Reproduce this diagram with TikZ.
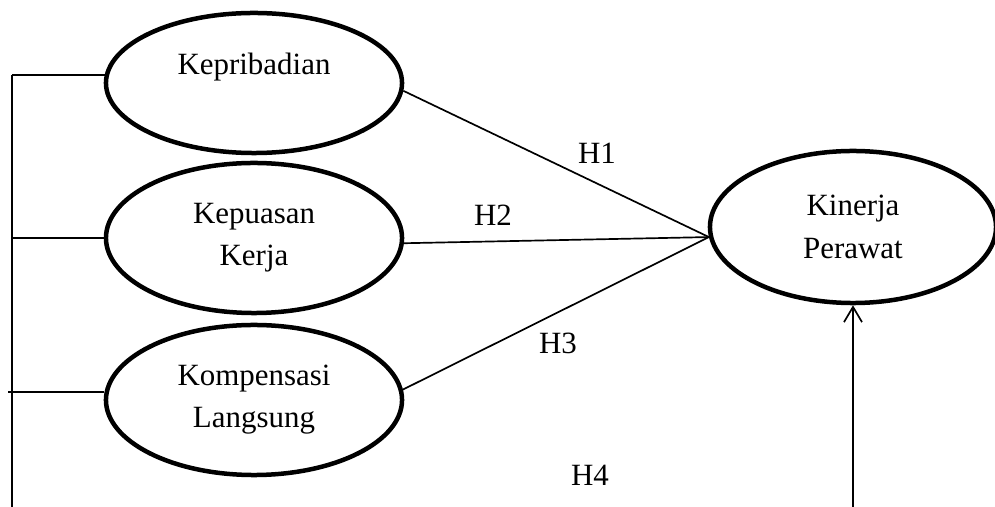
\documentclass[tikz,border=0pt]{standalone}
\usepackage{fontspec}
\setmainfont{Liberation Serif}
\usepackage{tikz}
\usetikzlibrary{arrows.meta,positioning,shapes.geometric}

\begin{document}
\begin{tikzpicture}[
    x=0.025cm,y=0.025cm,
    latent/.style={ellipse,draw=black,line width=3.2pt,
                   minimum width=7.4cm,minimum height=3.75cm,
                   inner sep=0pt,align=center,
                   font=\fontsize{22}{30}\selectfont},
    hlab/.style={inner sep=1pt,font=\fontsize{22}{30}\selectfont},
    fline/.style={black,line width=1.2pt}
  ]
  \useasboundingbox (0,0) rectangle (995,507);
  %% Independent variables (left column)
  \node[latent,minimum height=3.5cm,
        label={[hlab,yshift=0.4cm]center:Kepribadian}] (kep) at (254,424) {};
  \node[latent] (kpu) at (254,269) {Kepuasan\\Kerja};
  \node[latent] (kom) at (254,107) {Kompensasi\\Langsung};
  %% Dependent variable
  \node[latent,minimum width=7.15cm,minimum height=3.8cm] (kin) at (853,280) {Kinerja\\Perawat};
  %% Bracket on the left
  \coordinate (bartop) at (12,432);
  \coordinate (barbot) at (12,0);
  \draw[fline] (bartop) -- (barbot);
  \draw[fline] (kep.177) -- (kep.177 -| barbot);
  \draw[fline] (kpu.west) -- (kpu.west -| barbot);
  \draw[fline] (kom.177) -- ([xshift=-3pt]kom.177 -| barbot);
  %% Paths to Kinerja Perawat
  \draw[fline] (kep.357) -- (kin.184);
  \draw[fline] (kpu.358) -- (kin.184);
  \draw[fline] (kom.4) -- (kin.184);
  \coordinate (arrbot) at (853,0);
  \draw[fline,-{Straight Barb[length=0.38cm,width=0.45cm]}] (arrbot) -- (kin.south);
  %% Hypothesis labels
  \node[hlab] (h1) at (597,354) {H1};
  \node[hlab] (h2) at (493,292) {H2};
  \node[hlab] (h3) at (558,164) {H3};
  \node[hlab] (h4) at (590,32) {H4};
\end{tikzpicture}
\end{document}
